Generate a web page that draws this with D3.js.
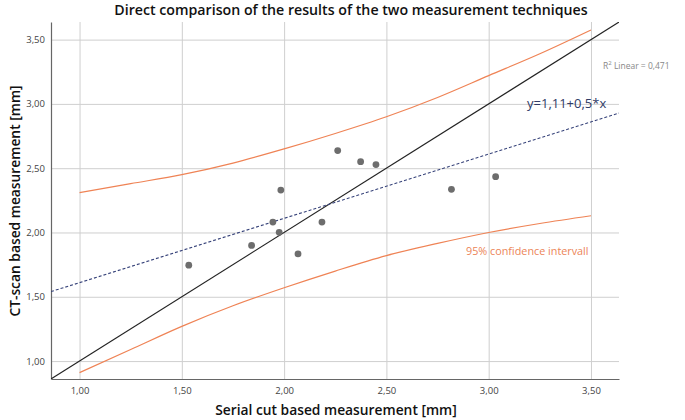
<!DOCTYPE html>
<html>
<head>
<meta charset="utf-8">
<script src="https://cdn.jsdelivr.net/npm/d3@7"></script>
<style>
  body { margin: 0; background: #fff; }
  text { font-family: "Open Sans", "Noto Sans", sans-serif; }
</style>
</head>
<body>
<svg id="chart"></svg>
<script>
const serialCut = [1.534, 1.841, 1.945, 1.976, 1.984, 2.068, 2.185, 2.262, 2.374, 2.449, 2.818, 3.034];
const ctScan    = [1.746, 1.899, 2.081, 2.001, 2.330, 1.834, 2.081, 2.637, 2.551, 2.528, 2.336, 2.434];

// 95% interval bands
const bandX     = [1.00, 1.25, 1.50, 1.75, 2.00, 2.25, 2.50, 2.75, 3.00, 3.25, 3.50];
const bandUpper = [2.31, 2.38, 2.45, 2.54, 2.65, 2.77, 2.90, 3.05, 3.22, 3.39, 3.575];
const bandLower = [0.91, 1.09, 1.27, 1.43, 1.57, 1.70, 1.82, 1.915, 2.00, 2.07, 2.13];

const fitIntercept = 1.11;
const fitSlope = 0.5;
const ticks = [1.0, 1.5, 2.0, 2.5, 3.0, 3.5];
const tickLabels = ["1,00", "1,50", "2,00", "2,50", "3,00", "3,50"];

const width = 685, height = 420;
const margin = { top: 22, right: 66, bottom: 41, left: 51 };
const domain = [0.8605, 3.637];

const svg = d3.select("#chart").attr("width", width).attr("height", height);

const x = d3.scaleLinear().domain(domain).range([margin.left, width - margin.right]);
const y = d3.scaleLinear().domain(domain).range([height - margin.bottom, margin.top]);

svg.append("defs").append("clipPath").attr("id", "plot")
  .append("rect")
  .attr("x", margin.left).attr("y", margin.top)
  .attr("width", x.range()[1] - margin.left)
  .attr("height", y.range()[0] - margin.top);

// grid
svg.append("g")
  .attr("transform", `translate(0,${y.range()[0]})`)
  .call(d3.axisBottom(x).tickValues(ticks).tickSize(-(y.range()[0] - margin.top)).tickFormat(""))
  .call(g => g.select(".domain").remove())
  .call(g => g.selectAll("line").attr("stroke", "#cfcfcf"));
svg.append("g")
  .attr("transform", `translate(${margin.left},0)`)
  .call(d3.axisLeft(y).tickValues(ticks).tickSize(-(x.range()[1] - margin.left)).tickFormat(""))
  .call(g => g.select(".domain").remove())
  .call(g => g.selectAll("line").attr("stroke", "#cfcfcf"));

// axes
svg.append("g")
  .attr("transform", `translate(0,${y.range()[0]})`)
  .call(d3.axisBottom(x).tickValues(ticks).tickSize(0).tickPadding(8).tickFormat((d, i) => tickLabels[i]))
  .call(g => g.select(".domain").attr("stroke", "#666").attr("stroke-width", 1.2))
  .call(g => g.selectAll("text").attr("fill", "#444").attr("font-size", "9.5px")
    .style("font-family", "'Open Sans', sans-serif"));
svg.append("g")
  .attr("transform", `translate(${margin.left},0)`)
  .call(d3.axisLeft(y).tickValues(ticks).tickSize(0).tickPadding(6).tickFormat((d, i) => tickLabels[i]))
  .call(g => g.select(".domain").attr("stroke", "#666").attr("stroke-width", 1.2))
  .call(g => g.selectAll("text").attr("fill", "#444").attr("font-size", "9.5px")
    .style("font-family", "'Open Sans', sans-serif"));

const plot = svg.append("g").attr("clip-path", "url(#plot)");

// line of identity
plot.append("line")
  .attr("x1", x(domain[0])).attr("y1", y(domain[0]))
  .attr("x2", x(domain[1])).attr("y2", y(domain[1]))
  .attr("stroke", "#222").attr("stroke-width", 1.1);

// fit line
plot.append("line")
  .attr("x1", x(domain[0])).attr("y1", y(fitIntercept + fitSlope * domain[0]))
  .attr("x2", x(domain[1])).attr("y2", y(fitIntercept + fitSlope * domain[1]))
  .attr("stroke", "#37437a").attr("stroke-width", 1.1).attr("stroke-dasharray", "3,2");

// interval curves
const band = d3.line().curve(d3.curveMonotoneX);
[bandUpper, bandLower].forEach(vals => {
  plot.append("path")
    .attr("d", band(bandX.map((v, i) => [x(v), y(vals[i])])))
    .attr("fill", "none")
    .attr("stroke", "#ef8355").attr("stroke-width", 1.2);
});

// points
plot.selectAll("circle")
  .data(serialCut)
  .enter()
  .append("circle")
  .attr("cx", d => x(d))
  .attr("cy", (d, i) => y(ctScan[i]))
  .attr("r", 3.4)
  .attr("fill", "#6d6d6d");

// texts
svg.append("text")
  .attr("x", 351).attr("y", 15)
  .attr("text-anchor", "middle")
  .attr("font-size", "14.2px").attr("font-weight", 600).attr("fill", "#111")
  .text("Direct comparison of the results of the two measurement techniques");

svg.append("text")
  .attr("x", 336).attr("y", 415)
  .attr("text-anchor", "middle")
  .attr("font-size", "13.8px").attr("font-weight", 600).attr("fill", "#111")
  .text("Serial cut based measurement [mm]");

svg.append("text")
  .attr("transform", "translate(20,201) rotate(-90)")
  .attr("text-anchor", "middle")
  .attr("font-size", "13.8px").attr("font-weight", 600).attr("fill", "#111")
  .text("CT-scan based measurement [mm]");

const r2 = svg.append("text")
  .attr("x", 603).attr("y", 69)
  .attr("font-size", "8.5px").attr("fill", "#888");
r2.append("tspan").text("R");
r2.append("tspan").attr("dy", -4).attr("font-size", "6px").text("2");
r2.append("tspan").attr("dy", 4).text(" Linear = 0,471");

svg.append("text")
  .attr("x", 527).attr("y", 108)
  .attr("font-size", "13px").attr("fill", "#2f3b66")
  .text("y=1,11+0,5*x");

svg.append("text")
  .attr("x", 466).attr("y", 255)
  .attr("font-size", "10.8px").attr("fill", "#ec8456")
  .text("95% confidence intervall");
</script>
</body>
</html>
